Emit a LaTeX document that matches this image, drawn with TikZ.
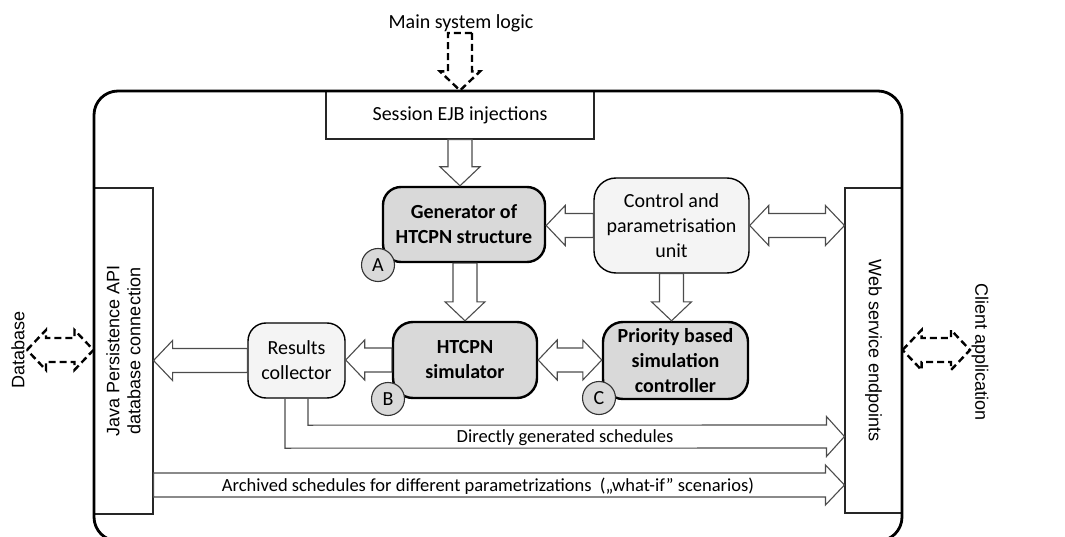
\documentclass[tikz,border=0pt]{standalone}
\usepackage{fontspec}
\setmainfont{Carlito}
\newfontfamily\arialfont{Liberation Sans}
\usetikzlibrary{calc}

\definecolor{boxgray}{RGB}{217,217,217}
\definecolor{boxlight}{RGB}{244,244,244}

\tikzset{
  graybox/.style={draw=black, line width=2.4pt, fill=boxgray, rounded corners=18pt,
    align=center, inner sep=0pt, font=\fontsize{20}{25}\selectfont\bfseries},
  lightbox/.style={draw=black, line width=1.4pt, fill=boxlight, rounded corners=20pt,
    align=center, inner sep=0pt, font=\fontsize{20}{25}\selectfont},
  plainbox/.style={draw=black!85, line width=1.1pt, fill=white, inner sep=0pt,
    font=\fontsize{20}{25}\selectfont},
  marker/.style={circle, draw=black!80, line width=1.1pt, fill=boxgray,
    minimum size=33pt, inner sep=0pt, font=\fontsize{20}{24}\selectfont},
  hollow/.style={draw=black!70, line width=1.1pt, fill=white, line join=miter},
  dashedhollow/.style={draw=black, line width=2.4pt, dash pattern=on 7pt off 4pt, fill=none},
  sidelabel/.style={font=\arialfont\fontsize{18}{21}\selectfont, align=center, inner sep=0pt},
  flowlabel/.style={font=\fontsize{18.5}{22}\selectfont, inner sep=0pt, anchor=base},
  outerframe/.style={draw=black, line width=2.8pt, rounded corners=24pt},
}

% hollow block arrow from #2 to #3
\newcommand\hollowarrow[3][]{%
  \coordinate (hb) at ($(#3)!19pt!(#2)$);
  \draw[hollow,#1] ($(#2)!12pt!90:(#3)$) -- ($(hb)!12pt!90:(#3)$) -- ($(hb)!20pt!90:(#3)$)
    -- (#3) -- ($(hb)!20pt!-90:(#3)$) -- ($(hb)!12pt!-90:(#3)$) -- ($(#2)!12pt!-90:(#3)$) -- cycle;
}
% hollow block arrow with heads at both ends
\newcommand\hollowdouble[3][]{%
  \coordinate (ha) at ($(#2)!19pt!(#3)$);
  \coordinate (hb) at ($(#3)!19pt!(#2)$);
  \draw[hollow,#1] (#2) -- ($(ha)!20pt!90:(#3)$) -- ($(ha)!12pt!90:(#3)$)
    -- ($(hb)!12pt!90:(#3)$) -- ($(hb)!20pt!90:(#3)$) -- (#3)
    -- ($(hb)!20pt!-90:(#3)$) -- ($(hb)!12pt!-90:(#3)$)
    -- ($(ha)!12pt!-90:(#3)$) -- ($(ha)!20pt!-90:(#3)$) -- cycle;
}

\begin{document}
\begin{tikzpicture}[x=1pt, y=-1pt]
\useasboundingbox (0,0) rectangle (1065,537);

% side interface boxes
\node[plainbox, minimum width=59, minimum height=326] (java) at (123.5,351) {};
\node[sidelabel, rotate=90] (javatext) at (java.center) {Java Persistence API\\database connection};
\node[plainbox, minimum width=57, minimum height=325] (web) at (873.5,350.5) {};
\node[sidelabel, rotate=-90] (webtext) at (web.center) {Web service endpoints};

% top entry box
\node[plainbox, minimum width=268, minimum height=48] (ses) at (460,115) {Session EJB injections};

% processing units
\node[graybox, minimum width=162, minimum height=75] (gen) at (464,224.5) {Generator of\\HTCPN structure};
\node[lightbox, minimum width=155, minimum height=95, rounded corners=22pt] (ctrl) at (671.5,225.5) {Control and\\parametrisation\\unit};
\node[lightbox, minimum width=97, minimum height=75, rounded corners=18pt] (coll) at (296.5,360.5) {Results\\collector};
\node[graybox, minimum width=144, minimum height=76, rounded corners=20pt] (sim) at (465,360) {HTCPN\\simulator};
\node[graybox, minimum width=145, minimum height=77, rounded corners=20pt] (prio) at (675.5,360.5) {Priority based\\simulation\\controller};

\node[marker] (ma) at (378,265) {A};
\node[marker] (mb) at (388,399) {B};
\node[marker] (mc) at (599,398) {C};

% outer frame
\draw[outerframe] (94,91) -- (902,91) -- (902,541) -- (94,541) -- cycle;

% external labels
\node[font=\fontsize{20}{24}\selectfont, anchor=base, inner sep=0pt] (msl) at (461,29) {Main system logic};
\node[sidelabel, rotate=90] (dblabel) at (18,350) {Database};
\node[sidelabel, rotate=-90] (clientlabel) at (980,352) {Client application};

% end points of the connectors
\coordinate (mslfoot) at (460,33);
\coordinate (dbtip) at (27,350);
\coordinate (dbbase) at (java.west |- dbtip);
\coordinate (clienttip) at (970,350);
\coordinate (clientbase) at (web.east |- clienttip);
\coordinate (sesgen) at (ses.south |- gen.north);
\coordinate (genin) at (gen.east |- ctrl.west);
\coordinate (webin) at (web.west |- ctrl.east);
\coordinate (gensim) at (sim.north |- gen.south);
\coordinate (ctrlprio) at (ctrl.south |- prio.north);
\coordinate (collin) at (coll.east |- sim.west);
\coordinate (prioin) at (prio.west |- sim.east);
\coordinate (javain) at (java.east |- coll.west);
\coordinate (archstart) at (java.east |- 0,485);
\coordinate (archtip) at (web.west |- 0,485);
\coordinate (dirtip) at (web.west |- 0,436.5);

% external dashed links
\hollowarrow[dashedhollow]{mslfoot}{ses.north}
\hollowdouble[dashedhollow]{dbtip}{dbbase}
\hollowdouble[dashedhollow]{clientbase}{clienttip}

% internal block arrows
\hollowarrow{ses.south}{sesgen}
\hollowarrow{ctrl.west}{genin}
\hollowdouble{ctrl.east}{webin}
\hollowarrow{gensim}{sim.north}
\hollowarrow{ctrl.south}{ctrlprio}
\hollowarrow{sim.west}{collin}
\hollowdouble{sim.east}{prioin}
\hollowarrow{coll.west}{javain}
\hollowarrow{archstart}{archtip}

% directly generated schedules
\draw[hollow, fill=none]
  ($(coll.south)+(-11.5,0)$) -- ($(coll.south)+(-11.5,49.5)$)
  -- ($(dirtip)+(-18,11.5)$) -- ($(dirtip)+(-18,20)$) -- (dirtip)
  -- ($(dirtip)+(-18,-20)$) -- ($(dirtip)+(-18,-11.5)$)
  -- ($(coll.south)+(11.5,26.5)$) -- ($(coll.south)+(11.5,0)$);

\node[flowlabel] (dirlabel) at (565,442) {Directly generated schedules};
\node[flowlabel] (archlabel) at (488,491) {Archived schedules for different parametrizations~ („what-if” scenarios)};
\end{tikzpicture}
\end{document}
